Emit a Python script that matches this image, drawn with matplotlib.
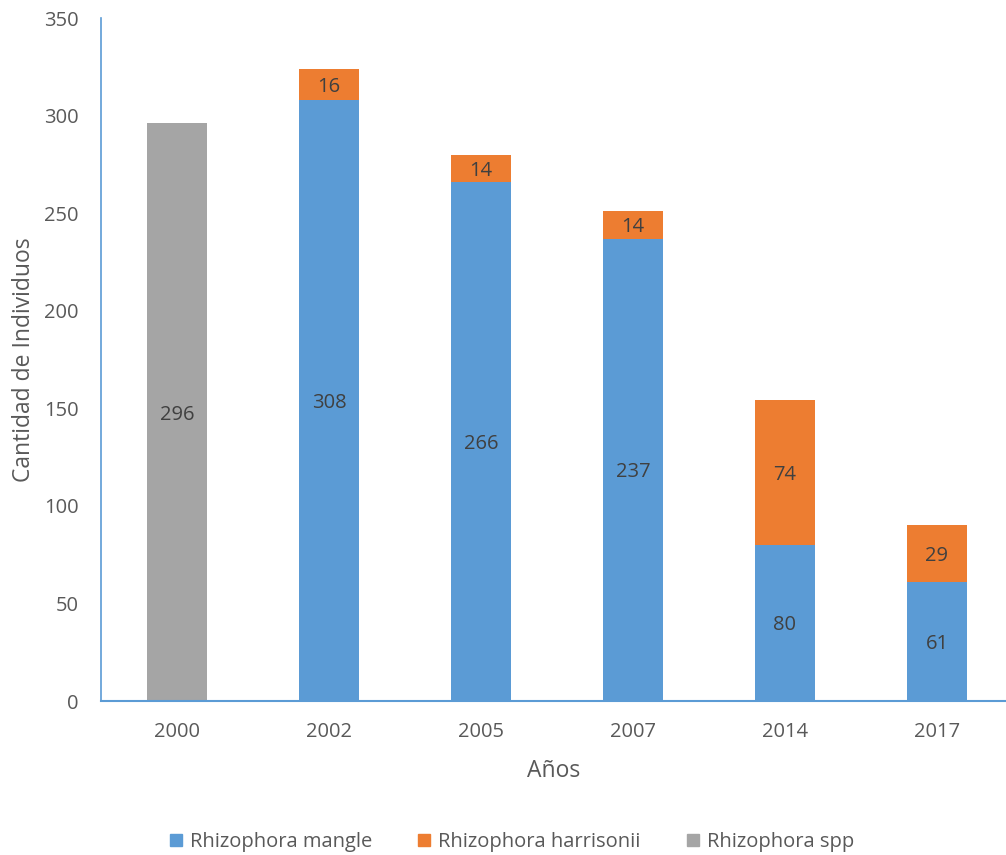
import matplotlib
matplotlib.use("Agg")
import matplotlib.pyplot as plt
from matplotlib.patches import Patch

years = ["2000", "2002", "2005", "2007", "2014", "2017"]
mangle = [0, 308, 266, 237, 80, 61]
harrisonii = [0, 16, 14, 14, 74, 29]
spp = [296, 0, 0, 0, 0, 0]

c_mangle = "#5B9BD5"
c_harr = "#ED7D31"
c_spp = "#A5A5A5"
txt = "#595959"

plt.rcParams['font.family'] = ['Open Sans', 'DejaVu Sans']

fig = plt.figure(figsize=(10.06, 8.55), dpi=100)
ax = fig.add_axes([101/1006, 1-701/855, (1006-101)/1006, (701-18)/855])

x = list(range(len(years)))
w = 0.4
ax.bar(x, spp, width=w, color=c_spp, zorder=2)
ax.bar(x, mangle, width=w, color=c_mangle, zorder=2)
ax.bar(x, harrisonii, width=w, bottom=mangle, color=c_harr, zorder=2)

vfs = 14.5
for i in x:
    if spp[i]:
        ax.text(i, spp[i]/2, str(spp[i]), ha='center', va='center_baseline', fontsize=vfs, color="#404040")
    if mangle[i]:
        ax.text(i, mangle[i]/2, str(mangle[i]), ha='center', va='center_baseline', fontsize=vfs, color="#404040")
    if harrisonii[i]:
        ax.text(i, mangle[i] + harrisonii[i]/2, str(harrisonii[i]), ha='center', va='center_baseline', fontsize=vfs, color="#404040")

ax.set_xlim(-0.5, -0.5 + (1006-101)/152)
ax.set_ylim(0, 350)
ax.set_yticks(range(0, 351, 50))
ax.set_xticks(x)
ax.set_xticklabels(years)
ax.tick_params(axis='both', length=0, labelsize=14.5, colors=txt)
ax.tick_params(axis='y', pad=16)
ax.tick_params(axis='x', pad=15)

for s in ['top', 'right']:
    ax.spines[s].set_visible(False)
ax.spines['left'].set_color(c_mangle)
ax.spines['bottom'].set_color(c_mangle)
ax.spines['left'].set_linewidth(1.2)
ax.spines['bottom'].set_linewidth(1.5)

ax.set_ylabel("Cantidad de Individuos", fontsize=16.5, color=txt, labelpad=6)
ax.set_xlabel("Años", fontsize=16.5, color=txt, labelpad=12)

handles = [Patch(color=c_mangle, label="Rhizophora mangle"),
           Patch(color=c_harr, label="Rhizophora harrisonii"),
           Patch(color=c_spp, label="Rhizophora spp")]
leg = fig.legend(handles=handles, loc='center', bbox_to_anchor=(512/1006, 1-842/855),
                 ncol=3, frameon=False, fontsize=14.5, handlelength=0.6, handleheight=0.6,
                 columnspacing=2.3, handletextpad=0.4)
for t in leg.get_texts():
    t.set_color(txt)

fig.savefig("out.png", dpi=100)
